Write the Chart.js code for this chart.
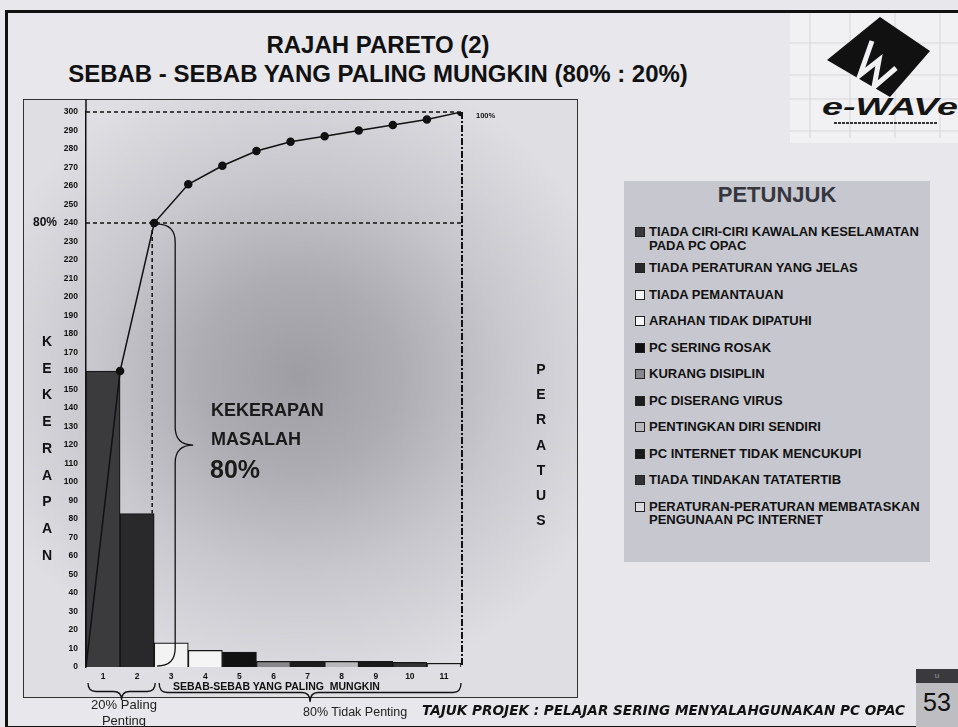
<!DOCTYPE html>
<html>
<head>
<meta charset="utf-8">
<title>Rajah Pareto (2)</title>
<script src="https://cdn.jsdelivr.net/npm/chart.js@4.4.1/dist/chart.umd.min.js"></script>
<style>
  body {
    margin: 0;
    width: 958px;
    height: 727px;
    position: relative;
    overflow: hidden;
    background: #e7e7ec;
    font-family: "Liberation Sans", Arial, sans-serif;
    color: #111;
  }
  .abs { position: absolute; }
  #frame {
    left: 5px; top: 10px; width: 970px; height: 713px;
    border: 3px solid #111;
  }
  .title {
    left: 0; width: 756px; text-align: center;
    font-weight: bold; font-size: 24px; color: #111;
    line-height: 28px;
  }
  #box {
    left: 23px; top: 99px; width: 553px; height: 597px;
    border: 1.5px solid #333;
    background: radial-gradient(ellipse 330px 320px at 275px 275px,
      #9d9da3 0%, #acacb2 30%, #c7c7cd 62%, #dedee3 100%);
  }
  #pareto { left: 23px; top: 99px; }
  .vword {
    width: 16px; word-break: break-all; text-align: center;
    font-weight: bold; font-size: 14px;
  }
  .note { font-weight: bold; font-size: 18px; color: #1a1a1a; line-height: 29px; }
  #legend {
    left: 624px; top: 181px; width: 306px; height: 381px;
    background: #c7c7cf;
  }
  #legend h3 {
    margin: 0; padding-top: 2px;
    text-align: center; font-size: 22px; line-height: 24px; color: #36363e;
  }
  .item {
    position: relative; padding-left: 25px;
    font-weight: bold; font-size: 13px; line-height: 13.5px; color: #111;
    margin-bottom: 13px;
  }
  .item i {
    position: absolute; left: 11px; top: 2px; width: 8px; height: 8px;
    border: 1px solid #222;
  }
  #footer {
    left: 422px; top: 702px;
    font-family: "DejaVu Sans", Verdana, sans-serif;
    font-weight: bold; font-style: italic; font-size: 13.6px; color: #111;
    white-space: nowrap;
  }
</style>
</head>
<body>
<div id="frame" class="abs"></div>

<div class="abs title" style="top:31px">RAJAH PARETO (2)</div>
<div class="abs title" style="top:60px">SEBAB - SEBAB YANG PALING MUNGKIN (80% : 20%)</div>

<svg class="abs" style="left:790px; top:13px" width="168" height="130" viewBox="0 0 168 130">
  <rect x="0" y="0" width="168" height="130" fill="#f1f1f3"/>
  <g stroke="#d2d2d6" stroke-width="0.8">
    <line x1="20" y1="0" x2="20" y2="125"/><line x1="60" y1="0" x2="60" y2="125"/>
    <line x1="105" y1="0" x2="105" y2="125"/><line x1="150" y1="0" x2="150" y2="125"/>
    <line x1="0" y1="30" x2="168" y2="30"/><line x1="0" y1="62" x2="168" y2="62"/>
    <line x1="0" y1="86" x2="168" y2="86"/><line x1="0" y1="118" x2="168" y2="118"/>
  </g>
  <polygon points="90,4 140,38 100,84 37,47" fill="#111"/>
  <polyline points="82,28 70,62 89,47 84,74 106,55" fill="none" stroke="#f1f1f3" stroke-width="5"/>
  <text x="32" y="102" font-family="Liberation Sans, Arial" font-weight="bold" font-style="italic"
        font-size="24" fill="#151515" textLength="136" lengthAdjust="spacingAndGlyphs">e-WAVe</text>
  <line x1="44" y1="110" x2="148" y2="110" stroke="#333" stroke-width="2" stroke-dasharray="3 1"/>
</svg>

<div id="box" class="abs"></div>
<canvas id="pareto" class="abs" width="555" height="612"></canvas>

<div class="abs vword" style="left:39px; top:328px; line-height:26.7px">KEKERAPAN</div>
<div class="abs vword" style="left:533px; top:357px; line-height:25.2px">PERATUS</div>

<div class="abs note" style="left:211px; top:396px">KEKERAPAN<br>MASALAH</div>
<div class="abs" style="left:210px; top:455px; font-weight:bold; font-size:25px; color:#1a1a1a">80%</div>

<div class="abs" style="left:173px; top:680px; font-weight:bold; font-size:10.5px; white-space:nowrap">SEBAB-SEBAB YANG PALING&nbsp; MUNGKIN</div>
<div class="abs" style="left:70px; top:697px; width:108px; text-align:center; font-size:13px; line-height:16px; color:#222">20% Paling<br>Penting</div>
<div class="abs" style="left:303px; top:705px; font-size:12.5px; color:#222; white-space:nowrap">80% Tidak Penting</div>

<div id="legend" class="abs">
  <h3>PETUNJUK</h3>
  <div id="legendItems" style="padding-top:18px"></div>
</div>

<div id="footer" class="abs">TAJUK PROJEK : PELAJAR SERING MENYALAHGUNAKAN PC OPAC</div>
<div class="abs" style="left:916px; top:669px; width:42px; height:14px; background:#3a3a3e; color:#9a9aa0; font-size:8px; text-align:center; line-height:14px">u</div>
<div class="abs" style="left:916px; top:683px; width:42px; height:44px; background:#bdbdc2; font-size:25px; line-height:38px; text-align:center">53</div>

<script>
// sebab (causes) numbered along the x axis
const causeNo = ['1', '2', '3', '4', '5', '6', '7', '8', '9', '10', '11'];

const causes = [
    'TIADA CIRI-CIRI KAWALAN KESELAMATAN PADA PC OPAC',
    'TIADA PERATURAN YANG JELAS',
    'TIADA PEMANTAUAN',
    'ARAHAN TIDAK DIPATUHI',
    'PC SERING ROSAK',
    'KURANG DISIPLIN',
    'PC DISERANG VIRUS',
    'PENTINGKAN DIRI SENDIRI',
    'PC INTERNET TIDAK MENCUKUPI',
    'TIADA TINDAKAN TATATERTIB',
    'PERATURAN-PERATURAN MEMBATASKAN PENGUNAAN PC INTERNET'
];

// kekerapan (frequency) of each cause
const frequency = [160, 83, 13, 9, 8, 3, 3, 3, 3, 2.5, 2];

// cumulative curve, on the same 0-300 scale (300 = 100%)
const cumulative = [160, 240, 261, 271, 279, 284, 287, 290, 293, 296, 300];

const yMax = 300;
const yStep = 10;

const barColors = ['#3b3b3e', '#29292b', '#f3f3f3', '#f5f5f5', '#111111', '#88888c',
                   '#1d1d1d', '#b9b9bd', '#1a1a1a', '#333336', '#dcdce0'];

// legend panel
const legendBox = document.getElementById('legendItems');
causes.forEach((text, i) => {
    const row = document.createElement('div');
    row.className = 'item';
    if (i === 0) row.style.marginBottom = '9px';
    const mark = document.createElement('i');
    mark.style.background = barColors[i];
    row.appendChild(mark);
    row.appendChild(document.createTextNode(text));
    legendBox.appendChild(row);
});

function braceDown(ctx, x1, x2, y, depth) {
    const h = depth / 2, r = 8, xm = (x1 + x2) / 2;
    ctx.beginPath();
    ctx.moveTo(x1, y);
    ctx.quadraticCurveTo(x1, y + h, x1 + r, y + h);
    ctx.lineTo(xm - r, y + h);
    ctx.quadraticCurveTo(xm, y + h, xm, y + depth);
    ctx.quadraticCurveTo(xm, y + h, xm + r, y + h);
    ctx.lineTo(x2 - r, y + h);
    ctx.quadraticCurveTo(x2, y + h, x2, y);
    ctx.stroke();
}

function braceRight(ctx, x, y1, y2, depth) {
    const h = depth / 2, r = 18, ym = (y1 + y2) / 2;
    ctx.beginPath();
    ctx.moveTo(x, y1);
    ctx.quadraticCurveTo(x + h, y1, x + h, y1 + r);
    ctx.lineTo(x + h, ym - r);
    ctx.quadraticCurveTo(x + h, ym, x + depth, ym);
    ctx.quadraticCurveTo(x + h, ym, x + h, ym + r);
    ctx.lineTo(x + h, y2 - r);
    ctx.quadraticCurveTo(x + h, y2, x, y2);
    ctx.stroke();
}

const paretoGuides = {
    id: 'paretoGuides',
    afterDatasetsDraw(chart) {
        const { ctx, chartArea } = chart;
        const xs = chart.scales.x, ys = chart.scales.y;
        const xEnd = xs.getPixelForValue(causeNo.length + 0.5);
        const y100 = ys.getPixelForValue(cumulative[cumulative.length - 1]);
        const y80 = ys.getPixelForValue(cumulative[1]);
        const y0 = ys.getPixelForValue(0);
        const xCut = xs.getPixelForValue(2.5);

        ctx.save();
        ctx.strokeStyle = '#111';

        // y axis runs up to the frame
        ctx.lineWidth = 1.5;
        ctx.beginPath();
        ctx.moveTo(chartArea.left, 0);
        ctx.lineTo(chartArea.left, chartArea.top);
        ctx.stroke();

        ctx.setLineDash([4, 3]);
        ctx.beginPath();
        ctx.moveTo(chartArea.left, y100);
        ctx.lineTo(xEnd, y100);
        ctx.moveTo(chartArea.left, y80);
        ctx.lineTo(xEnd, y80);
        ctx.moveTo(xCut - 2, y80);
        ctx.lineTo(xCut - 2, ys.getPixelForValue(frequency[1]));
        ctx.stroke();

        ctx.lineWidth = 2;
        ctx.setLineDash([7, 2, 2, 2]);
        ctx.beginPath();
        ctx.moveTo(xEnd + 1, y100);
        ctx.lineTo(xEnd + 1, y0);
        ctx.stroke();

        ctx.setLineDash([]);
        ctx.lineWidth = 1.3;
        braceRight(ctx, xCut + 3, y80 + 1, y0 - 1, 36);
        braceDown(ctx, xs.getPixelForValue(0.5) + 2, xCut + 1, y0 + 16, 17);
        braceDown(ctx, xCut + 5, xEnd, y0 + 16, 19);

        ctx.fillStyle = '#111';
        ctx.textBaseline = 'middle';
        ctx.font = 'bold 12px "Liberation Sans", Arial';
        ctx.textAlign = 'right';
        ctx.fillText('80%', 34, y80);
        ctx.font = 'bold 7.5px "Liberation Sans", Arial';
        ctx.textAlign = 'left';
        ctx.fillText('100%', xEnd + 15, y100 + 4);
        ctx.restore();
    }
};

const ctx = document.getElementById('pareto').getContext('2d');
new Chart(ctx, {
    type: 'bar',
    data: {
        datasets: [{
            type: 'line',
            label: 'Kumulatif',
            data: [{ x: 0.5, y: 0 }].concat(cumulative.map((v, i) => ({ x: i + 1.5, y: v }))),
            borderColor: '#111',
            borderWidth: 1.5,
            pointRadius: [0].concat(cumulative.map(() => 3.5)),
            pointBackgroundColor: '#111',
            pointBorderColor: '#111',
            tension: 0,
            order: 0
        }, {
            label: 'Kekerapan',
            data: frequency.map((v, i) => ({ x: Number(causeNo[i]), y: v })),
            backgroundColor: barColors,
            borderColor: '#161616',
            borderWidth: 1.2,
            barPercentage: 1,
            categoryPercentage: 1,
            order: 1
        }]
    },
    options: {
        responsive: false,
        animation: false,
        devicePixelRatio: 1,
        layout: { padding: { top: 10, right: 117, left: 0, bottom: 0 } },
        plugins: {
            legend: { display: false },
            tooltip: { enabled: false }
        },
        scales: {
            x: {
                type: 'linear',
                min: 0.5,
                max: causeNo.length + 0.5,
                offset: false,
                grid: { display: false, drawTicks: false },
                border: { display: false },
                afterBuildTicks: (scale) => {
                    scale.ticks = causeNo.map(n => ({ value: Number(n) }));
                },
                afterFit: (scale) => { scale.height = 44; },
                ticks: {
                    autoSkip: false,
                    maxRotation: 0,
                    padding: 5,
                    color: '#111',
                    font: { family: '"Liberation Sans", Arial', size: 8.5, weight: 'bold' },
                    callback: (v, i) => causeNo[i]
                }
            },
            y: {
                min: 0,
                max: yMax,
                grid: { display: false, drawTicks: false },
                border: { display: true, color: '#111', width: 1.5 },
                afterFit: (scale) => { scale.width = 63; },
                ticks: {
                    stepSize: yStep,
                    autoSkip: false,
                    padding: 8,
                    color: '#111',
                    font: { family: '"Liberation Sans", Arial', size: 8.5, weight: 'bold' }
                }
            }
        }
    },
    plugins: [paretoGuides]
});
</script>
</body>
</html>
